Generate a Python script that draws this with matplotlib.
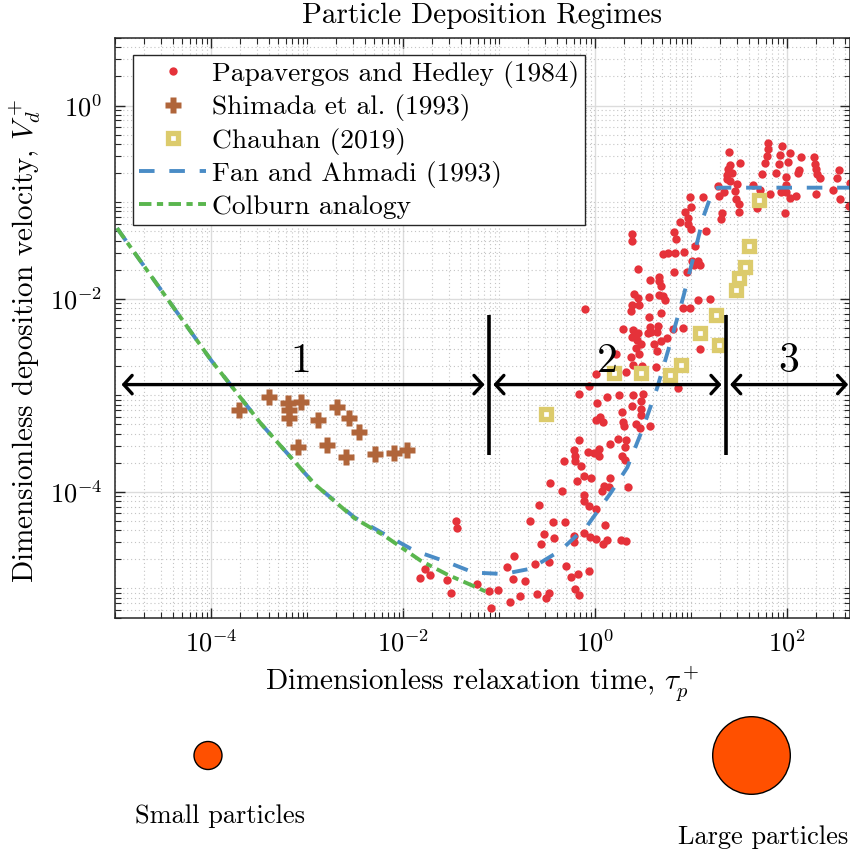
import numpy as np
import matplotlib
matplotlib.use('Agg')
import matplotlib.pyplot as plt
from matplotlib import ticker
from matplotlib.patches import Circle

plt.rcParams['font.family'] = 'serif'
plt.rcParams['font.serif'] = ['cmr10']
plt.rcParams['mathtext.fontset'] = 'cm'
plt.rcParams['axes.formatter.use_mathtext'] = True

# Papavergos and Hedley (1984)
ph_tau = [1.50e-2, 1.68e-2, 1.91e-2, 2.84e-2, 3.13e-2, 3.58e-2, 3.63e-2, 5.92e-2, 7.82e-2, 9.7e-2,
          8.2e-2, 0.121, 0.142, 0.139, 0.131, 0.164, 0.188, 0.211, 0.237, 0.257,
          0.249, 0.309, 0.332, 0.332, 0.276, 0.296, 0.342, 0.374, 0.365, 0.449,
          0.482, 0.499, 0.561, 0.608, 0.604, 0.658, 0.612, 0.680, 0.648, 0.759,
          0.913, 0.772, 0.759, 0.865, 0.767, 0.891, 0.865, 1.01, 1.01, 1.18,
          1.25, 1.27, 1.21, 1.33, 1.42, 1.38, 1.02, 2.11, 7.28, 0.855,
          0.674, 1.34, 1.77, 2.48, 3.12, 1.05, 2.44, 3.02, 3.0, 1.92,
          2.97, 1.12, 1.01, 1.21, 1.93, 2.01, 2.64, 2.93, 3.75, 0.674,
          1.74, 2.08, 1.42, 2.05, 0.598, 0.844, 0.965, 1.09, 1.10, 0.612,
          0.622, 1.89, 2.05, 0.471, 0.719, 2.18, 1.86, 2.11, 1.66, 8.6,
          7.55, 9.24, 9.24, 9.93, 14.3, 21.1, 20.4, 2.44, 2.44, 6.55,
          6.93, 5.12, 5.73, 6.77, 10.3, 11.9, 10.7, 12.2, 8.32, 11.0,
          2.81, 6.66, 9.09, 3.75, 4.57, 4.62, 4.8, 2.56, 2.81, 3.63,
          4.65, 5.03, 5.28, 2.44, 2.83, 0.785, 2.38, 8.12, 9.69, 11.7,
          15.8, 3.6, 4.88, 1.95, 2.5, 3.69, 4.47, 3.78, 3.55, 4.36,
          2.77, 6.5, 8.12, 2.44, 2.7, 5.54, 4.12, 4.88, 3.02, 2.64,
          2.34, 2.86, 4.36, 12.4, 2.5, 3.1, 4.26, 24.8, 32.1, 25.4,
          24.4, 26.5, 23.8, 23.5, 25.4, 30.1, 43.8, 19.1, 28.7, 22.0,
          19.5, 29.4, 31.3, 31.6, 9.77, 13.2, 10.0, 48.2, 62.7, 63.6,
          88.3, 106, 61.7, 84.2, 139, 191, 59.2, 82.8, 102, 195,
          199, 348, 55.1, 76.5, 133, 129, 203, 221, 327, 97.2,
          97.2, 445, 52.5, 66.2, 86.2, 97.2, 297, 107, 124, 198,
          354, 442, 94.9]
ph_vd = [1.29e-5, 1.59e-5, 1.38e-5, 1.22e-5, 8.9e-6, 4.97e-5, 4.2e-5, 1.10e-5, 9.5e-6, 9.7e-6,
         6.2e-6, 1.68e-5, 2.19e-5, 1.26e-5, 7.3e-6, 8.4e-6, 1.19e-5, 5.0e-5, 1.78e-5, 7.3e-5,
         8.8e-6, 7.9e-6, 9.0e-6, 1.88e-5, 2.85e-5, 3.7e-5, 1.24e-4, 3.3e-5, 4.93e-5, 1.03e-4,
         4.93e-5, 1.69e-5, 1.32e-5, 3.47e-5, 3.03e-5, 1.41e-5, 9.9e-6, 8.6e-6, 1.28e-4, 1.45e-4,
         1.39e-4, 9.3e-5, 8.1e-5, 7.06e-5, 3.79e-5, 3.44e-5, 1.53e-5, 6.7e-5, 3.26e-5, 1.01e-4,
         1.16e-4, 4.5e-5, 2.87e-5, 3.21e-5, 1.38e-4, 1.12e-4, 1.65e-3, 1.75e-3, 1.18e-3, 1.24e-3,
         1.04e-3, 9.7e-4, 1.0e-3, 1.0e-3, 1.02e-3, 8.3e-4, 7.7e-4, 8.7e-4, 7.2e-4, 6.7e-4,
         6.2e-4, 5.96e-4, 5.6e-4, 5.3e-4, 5.25e-4, 4.76e-4, 5.08e-4, 4.62e-4, 4.81e-4, 3.47e-4,
         3.5e-4, 3.44e-4, 3.1e-4, 2.91e-4, 2.69e-4, 2.57e-4, 2.52e-4, 2.8e-4, 2.34e-4, 2.33e-4,
         2.08e-4, 2.37e-4, 2.15e-4, 2.07e-4, 1.85e-4, 1.12e-4, 3.18e-5, 3.13e-5, 2.66e-3, 7.96e-2,
         6.18e-2, 6.86e-2, 5.9e-2, 5.27e-2, 5.06e-2, 7.67e-2, 6.7e-2, 4.68e-2, 3.93e-2, 4.94e-2,
         4.12e-2, 2.9e-2, 2.95e-2, 2.99e-2, 2.45e-2, 2.47e-2, 2.23e-2, 2.23e-2, 3.04e-2, 3.54e-2,
         2.03e-2, 1.89e-2, 1.87e-2, 1.55e-2, 1.69e-2, 1.51e-2, 1.36e-2, 1.12e-2, 1.01e-2, 1.03e-2,
         1.08e-2, 1.06e-2, 9.6e-3, 8.6e-3, 8.6e-3, 7.8e-3, 7.43e-3, 8.05e-3, 8.05e-3, 9.66e-3,
         9.84e-3, 6.4e-3, 7.15e-3, 4.81e-3, 4.72e-3, 5.04e-3, 5.16e-3, 4.47e-3, 4.37e-3, 4.51e-3,
         4.37e-3, 4.84e-3, 4.99e-3, 4.03e-3, 3.72e-3, 3.9e-3, 3.4e-3, 3.61e-3, 3.36e-3, 3.05e-3,
         2.48e-3, 2.68e-3, 2.86e-3, 3.0e-3, 2.06e-3, 2.0e-3, 1.97e-3, 0.334, 0.254, 0.243,
         0.219, 0.2, 0.191, 0.173, 0.166, 0.155, 0.152, 0.147, 0.129, 0.127,
         0.115, 0.107, 9.5e-2, 7.85e-2, 0.114, 0.112, 8.85e-2, 8.65e-2, 0.414, 0.356,
         0.38, 0.321, 0.299, 0.309, 0.292, 0.292, 0.255, 0.25, 0.257, 0.249,
         0.221, 0.214, 0.195, 0.202, 0.216, 0.2, 0.196, 0.179, 0.177, 0.184,
         0.15, 0.159, 0.133, 0.12, 0.128, 0.128, 0.134, 0.111, 0.115, 0.122,
         0.107, 9.1e-2, 7.78e-2]

# Shimada et al. (1993)
sh_tau = [1.97e-4, 3.98e-4, 6.37e-4, 8.7e-4, 6.43e-4, 6.43e-4, 1.29e-3, 2.06e-3,
          2.74e-3, 3.49e-3, 8.0e-4, 1.63e-3, 2.55e-3, 5.04e-3, 8.04e-3, 1.09e-2]
sh_vd = [6.98e-4, 9.6e-4, 8.3e-4, 8.45e-4, 7.1e-4, 5.88e-4, 5.55e-4, 7.5e-4,
         5.88e-4, 4.13e-4, 2.91e-4, 3.08e-4, 2.29e-4, 2.44e-4, 2.5e-4, 2.74e-4]

# Chauhan (2019)
ch_tau = [0.311, 1.56, 3.02, 6.05, 7.87, 12.2, 17.9, 19.4, 29.0, 31.8, 36.2, 39.8, 51.3]
ch_vd = [6.35e-4, 1.70e-3, 1.68e-3, 1.61e-3, 2.08e-3, 4.45e-3, 6.76e-3, 3.3e-3,
         1.24e-2, 1.63e-2, 2.14e-2, 3.52e-2, 0.105]

# Fan and Ahmadi (1993)
fa_tau = [1.05e-5, 1e-4, 1.61e-4, 3.31e-4, 6.27e-4, 1.19e-3, 1.91e-3, 3.09e-3, 6.33e-3,
          1.30e-2, 2.89e-2, 5.42e-2, 0.111, 0.212, 0.435, 0.83, 1.44, 2.16, 3.17,
          4.44, 6.05, 8.26, 11.5, 13.4, 16.9, 19.1, 450]
fa_vd = [5.37e-2, 2.31e-3, 1.27e-3, 5.08e-4, 2.48e-4, 1.21e-4, 8.15e-5, 5.47e-5, 3.67e-5,
         2.47e-5, 1.87e-5, 1.46e-5, 1.41e-5, 1.60e-5, 2.47e-5, 4.48e-5, 9.63e-5, 1.79e-4, 4.66e-4,
         1.21e-3, 3.46e-3, 1.04e-2, 3.78e-2, 7.08e-2, 0.134, 0.141, 0.141]

# Colburn analogy
co_tau = [1.05e-5, 1e-4, 3.31e-4, 1.19e-3, 3.09e-3, 6.33e-3, 1.52e-2, 2.89e-2, 5.05e-2, 7.57e-2]
co_vd = [5.37e-2, 2.31e-3, 5.08e-4, 1.21e-4, 5.36e-5, 3.53e-5, 1.94e-5, 1.39e-5, 1.09e-5, 9.12e-6]

# regime boundaries and arrows
regime_bounds = [0.078, 23.0]
bound_span = [2.39e-4, 6.76e-3]
arrow_level = 1.29e-3
arrow_spans = [(1.17e-5, 0.0705), (0.0869, 20.7), (25.4, 431.0)]
regime_names = ['1', '2', '3']
regime_label_x = [8.6e-4, 1.33, 104.5]
regime_label_y = 1.73e-3

red = '#E5323A'
brown = '#B0653A'
yellow = '#DCCB6C'
blue = '#4A8CC6'
green = '#5AB64E'
spine_col = '#262626'

W, H = 850, 856
fig = plt.figure(figsize=(W / 100, H / 100), dpi=100)
ax = fig.add_axes([115 / W, 1 - 617.5 / H, 735 / W, 579.5 / H])
ax.set_xscale('log')
ax.set_yscale('log')

ax.plot(ph_tau, ph_vd, 'o', color=red, ms=6, mec='none', label='Papavergos and Hedley (1984)')
ax.plot(sh_tau, sh_vd, 'P', color=brown, ms=11, mec='none', label='Shimada et al. (1993)')
ax.plot(ch_tau, ch_vd, 's', mfc='white', mec=yellow, ms=7, mew=3.8, label='Chauhan (2019)')
ax.plot(fa_tau, fa_vd, color=blue, lw=2.8, dashes=(4, 3.8), label='Fan and Ahmadi (1993)')
ax.plot(co_tau, co_vd, color=green, lw=2.8, dashes=(3.2, 1.4, 1.6, 1.4), label='Colburn analogy')

for xb in regime_bounds:
    ax.plot([xb, xb], bound_span, color='k', lw=2.6, solid_capstyle='butt')
for (x0, x1) in arrow_spans:
    ax.annotate('', xy=(x1, arrow_level), xytext=(x0, arrow_level),
                arrowprops=dict(arrowstyle='<->,head_length=0.3,head_width=0.33',
                                lw=2.4, color='k', shrinkA=0, shrinkB=0, mutation_scale=20))
for name, lx in zip(regime_names, regime_label_x):
    ax.text(lx, regime_label_y, name, fontsize=30, ha='center', va='baseline')

ax.set_xlim(1e-5, 450)
ax.set_ylim(5e-6, 5)
ax.set_xticks([1e-4, 1e-2, 1e0, 1e2])
ax.set_yticks([1e-4, 1e-2, 1e0])
for axis in (ax.xaxis, ax.yaxis):
    axis.set_minor_locator(ticker.LogLocator(base=10, subs=np.arange(1, 10), numticks=100))
    axis.set_minor_formatter(ticker.NullFormatter())
ax.tick_params(which='both', direction='in', top=True, right=True, color=spine_col)
ax.tick_params(which='major', length=7, width=1.0, labelsize=19, pad=9)
ax.tick_params(which='minor', length=4, width=0.8)
ax.grid(True, which='major', color='#dcdcdc', lw=1.0, ls='-')
ax.grid(True, which='minor', color='#c4c4c4', lw=0.8, ls=(0, (1, 2.5)))
ax.set_axisbelow(True)
for sp in ax.spines.values():
    sp.set_color(spine_col)
    sp.set_linewidth(1.1)

ax.set_title('Particle Deposition Regimes', fontsize=21, pad=11)
ax.set_xlabel('Dimensionless relaxation time, $\\tau_p^+$', fontsize=21, labelpad=6)
ax.set_ylabel('Dimensionless deposition velocity, $V_d^+$', fontsize=21)
ax.yaxis.set_label_coords(-0.098, 0.477)

leg = ax.legend(loc='upper left', bbox_to_anchor=(0.0245, 0.9707), borderaxespad=0,
                fontsize=19.8, fancybox=False, framealpha=1, edgecolor=spine_col,
                handlelength=2.45, handletextpad=0.2, borderpad=0.22, labelspacing=0.23)
leg.get_frame().set_linewidth(1.0)

# particle size sketch below the axes
small = Circle((208 / 100, (H - 755.5) / 100), 0.14, transform=fig.dpi_scale_trans,
               facecolor='#FF5000', edgecolor='k', lw=1.0)
large = Circle((751.5 / 100, (H - 755.5) / 100), 0.388, transform=fig.dpi_scale_trans,
               facecolor='#FF5000', edgecolor='k', lw=1.0)
fig.add_artist(small)
fig.add_artist(large)
fig.text(220 / W, 1 - 816 / H, 'Small particles', fontsize=19, ha='center', va='center')
fig.text(763 / W, 1 - 837 / H, 'Large particles', fontsize=19, ha='center', va='center')

fig.savefig('out.png', dpi=100)
